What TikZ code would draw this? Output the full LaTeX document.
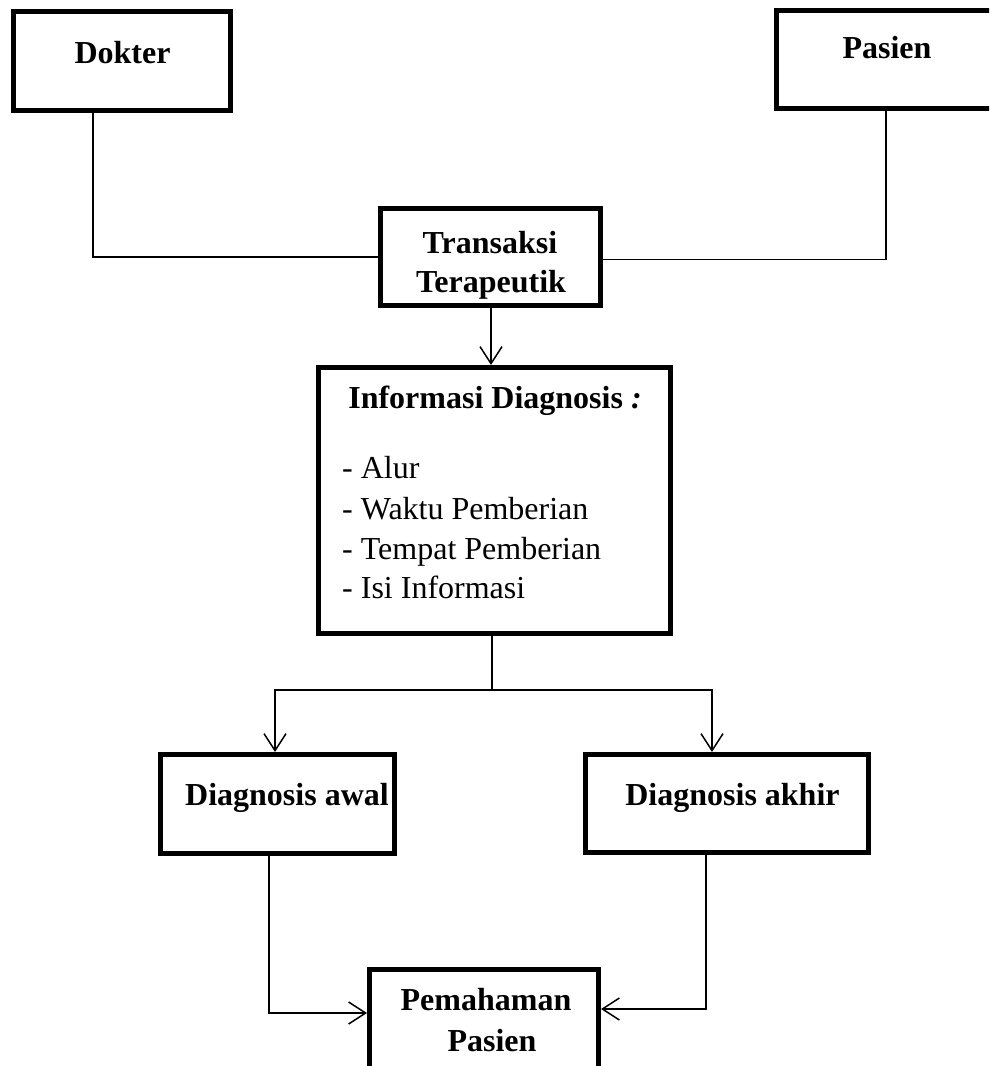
\documentclass[tikz,border=0pt]{standalone}
\usepackage{fontspec}
\setmainfont{Liberation Serif}
\usetikzlibrary{arrows.meta,calc}
\begin{document}
\begin{tikzpicture}[x=1pt,y=-1pt,
  box/.style={draw, line width=5pt, rectangle, inner sep=0pt},
  lbl/.style={font=\bfseries\fontsize{32}{40}\selectfont, anchor=base, inner sep=0pt},
  item/.style={font=\fontsize{32}{40}\selectfont, anchor=base west, inner sep=0pt},
  conn/.style={line width=1.5pt},
  arr/.style={conn, -{Straight Barb[length=17pt,width=22pt]}}]
\useasboundingbox (0,0) rectangle (989,1066);
\clip (0,0) rectangle (989,1066);
% boxes
\node[box, minimum width=217pt, minimum height=99pt] (dok) at (122,61) {};
\node[box, minimum width=223.5pt, minimum height=98.5pt] (pas) at (888.25,59.25) {};
\node[box, minimum width=220.5pt, minimum height=97.5pt] (tra) at (490.25,256.75) {};
\node[box, minimum width=352pt, minimum height=266pt] (inf) at (494.5,500.5) {};
\node[box, minimum width=234pt, minimum height=99pt] (awal) at (277.5,804) {};
\node[box, minimum width=283pt, minimum height=98pt] (akhir) at (727,803.5) {};
\node[box, minimum width=229pt, minimum height=110.5pt] (pem) at (484,1024.75) {};
% texts
\node[lbl] (tdok) at (122.5,63) {Dokter};
\node[lbl] (tpas) at (887,58) {Pasien};
\node[lbl] (ttra1) at (490,253) {Transaksi};
\node[lbl] (ttra2) at (491,292) {Terapeutik};
\node[lbl] (tinf) at (495,408) {Informasi Diagnosis \textit{:}};
\node[item] (i1) at (342,478) {- Alur};
\node[item] (i2) at (342,519) {- Waktu Pemberian};
\node[item] (i3) at (342,559) {- Tempat Pemberian};
\node[item] (i4) at (342,598) {- Isi Informasi};
\node[lbl, anchor=base west] (tawal) at (185,805) {Diagnosis awal};
\node[lbl] (takhir) at (732.5,805) {Diagnosis akhir};
\node[lbl] (tpem1) at (486,1010) {Pemahaman};
\node[lbl] (tpem2) at (492,1051) {Pasien};
% connectors
\draw[conn] (dok.south -| 93,0) |- (tra.west);
\draw[conn] (pas.south -| 886,0) |- ($(tra.east)+(0,2.5)$);
\draw[arr] (tra.south -| 491,0) -- (inf.north -| 491,0);
\coordinate (jm) at (492,690);
\coordinate (jl) at (275,690);
\coordinate (jr) at (712,690);
\draw[conn] (inf.south -| jm) -- (jm);
\draw[arr] (jm) -- (jl) -- (awal.north -| jl);
\draw[arr] (jm) -- (jr) -- (akhir.north -| jr);
\draw[arr] (awal.south -| 269,0) |- (pem.west |- 0,1013);
\draw[arr] ($(akhir.south -| 706,0)+(0,-5)$) |- (pem.east |- 0,1009);
\end{tikzpicture}
\end{document}
